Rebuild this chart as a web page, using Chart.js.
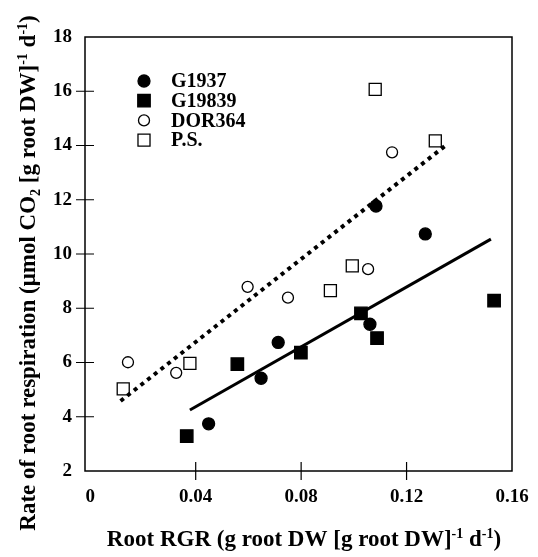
<!DOCTYPE html>
<html>
<head>
<meta charset="utf-8">
<script src="https://cdn.jsdelivr.net/npm/chart.js"></script>
<style>
  body { margin: 0; background: #fff; }
  #wrap { width: 538px; height: 557px; }
</style>
</head>
<body>
<div id="wrap"><canvas id="myChart" width="538" height="557"></canvas></div>
<script>
// values
var xMin = -0.002, xMax = 0.16;
var xTicks = [0, 0.04, 0.08, 0.12, 0.16];
var xTickLabels = ["0", "0.04", "0.08", "0.12", "0.16"];
var yTicks = [2, 4, 6, 8, 10, 12, 14, 16, 18];

var seriesNames = ["G1937", "G19839", "DOR364", "P.S."];

var g1937X = [0.0449, 0.0648, 0.0713, 0.1061, 0.1084, 0.1271];
var g1937Y = [3.74, 5.42, 6.74, 7.41, 11.77, 10.74];
var g19839X = [0.0366, 0.0558, 0.0799, 0.1027, 0.1088, 0.1532];
var g19839Y = [3.29, 5.94, 6.36, 7.81, 6.90, 8.28];
var dorX = [0.0143, 0.0326, 0.0597, 0.0750, 0.1054, 0.1145];
var dorY = [6.01, 5.62, 8.79, 8.39, 9.44, 13.75];
var psX = [0.0125, 0.0378, 0.0911, 0.0994, 0.1081, 0.1309];
var psY = [5.03, 5.97, 8.65, 9.56, 16.07, 14.17];

// regression lines (end points)
var dottedX = [0.0115, 0.1356];
var dottedY = [4.58, 14.06];
var solidX = [0.0378, 0.1520];
var solidY = [4.25, 10.55];

var xTitle = [
  {t: "Root RGR (g root DW [g root DW]"}, {t: "-1", s: 1}, {t: " d"}, {t: "-1", s: 1}, {t: ")"}
];
var yTitle = [
  {t: "Rate of root respiration (\u03bcmol CO"}, {t: "2", s: -1}, {t: " [g root DW]"},
  {t: "-1", s: 1}, {t: " d"}, {t: "-1", s: 1}, {t: ")"}
];

var FONT = '"Liberation Serif", "Times New Roman", serif';

function pts(xs, ys) {
  return xs.map(function (x, i) { return {x: x, y: ys[i]}; });
}

function segFont(s) {
  return s.s ? "bold 14px " + FONT : "bold 23px " + FONT;
}

function richWidth(ctx, segs) {
  var w = 0;
  segs.forEach(function (s) {
    ctx.font = segFont(s);
    w += ctx.measureText(s.t).width;
  });
  return w;
}

function drawRich(ctx, segs, cx, cy) {
  var x = cx - richWidth(ctx, segs) / 2;
  ctx.textBaseline = "alphabetic";
  ctx.textAlign = "left";
  segs.forEach(function (s) {
    ctx.font = segFont(s);
    var dy = s.s == 1 ? -8 : (s.s == -1 ? 5 : 0);
    ctx.fillText(s.t, x, cy + dy);
    x += ctx.measureText(s.t).width;
  });
}

var markers = [
  {style: "circle", r: 6, fill: "#000"},
  {style: "rect", r: 8.8, fill: "#000"},
  {style: "circle", r: 5.5, fill: "#fff"},
  {style: "rect", r: 8.5, fill: "#fff"}
];

var framePlugin = {
  id: "frame",
  afterDraw: function (chart) {
    var ctx = chart.ctx;
    var a = chart.chartArea;
    var xs = chart.scales.x, ys = chart.scales.y;
    ctx.save();
    ctx.strokeStyle = "#000";
    ctx.lineWidth = 1.5;
    ctx.strokeRect(a.left, a.top, a.right - a.left, a.bottom - a.top);
    ctx.lineWidth = 1.2;
    ctx.beginPath();
    for (var i = 1; i < xTicks.length - 1; i++) {
      var px = xs.getPixelForValue(xTicks[i]);
      ctx.moveTo(px, a.bottom - 9);
      ctx.lineTo(px, a.bottom + 9);
    }
    for (var j = 1; j < yTicks.length - 1; j++) {
      var py = ys.getPixelForValue(yTicks[j]);
      ctx.moveTo(a.left - 9, py);
      ctx.lineTo(a.left + 9, py);
    }
    ctx.stroke();

    // legend
    for (var k = 0; k < seriesNames.length; k++) {
      var m = markers[k];
      var ly = 81 + k * 19.7;
      var lx = 144;
      ctx.beginPath();
      if (m.style == "circle") {
        ctx.arc(lx, ly, m.r, 0, Math.PI * 2);
      } else {
        var h = m.r / Math.SQRT2;
        ctx.rect(lx - h, ly - h, 2 * h, 2 * h);
      }
      ctx.fillStyle = m.fill;
      ctx.fill();
      ctx.lineWidth = 1.3;
      ctx.strokeStyle = "#000";
      ctx.stroke();
      ctx.fillStyle = "#000";
      ctx.font = "bold 20px " + FONT;
      ctx.textAlign = "left";
      ctx.textBaseline = "middle";
      ctx.fillText(seriesNames[k], 171, ly + 1);
    }

    // axis titles
    ctx.fillStyle = "#000";
    drawRich(ctx, xTitle, 304, 546);
    ctx.translate(35, 273);
    ctx.rotate(-Math.PI / 2);
    drawRich(ctx, yTitle, 0, 0);
    ctx.restore();
  }
};

function scatterSet(i, xs, ys) {
  var m = markers[i];
  return {
    type: "scatter",
    label: seriesNames[i],
    data: pts(xs, ys),
    pointStyle: m.style,
    pointRadius: m.r,
    pointHoverRadius: m.r,
    backgroundColor: m.fill,
    borderColor: "#000",
    borderWidth: 1.3
  };
}

new Chart("myChart", {
  type: "scatter",
  data: {
    datasets: [
      {
        type: "line",
        label: "fit1",
        data: pts(dottedX, dottedY),
        borderColor: "#000",
        borderWidth: 4,
        borderDash: [4, 4.5],
        pointRadius: 0,
        fill: false
      },
      {
        type: "line",
        label: "fit2",
        data: pts(solidX, solidY),
        borderColor: "#000",
        borderWidth: 3,
        pointRadius: 0,
        fill: false
      },
      scatterSet(0, g1937X, g1937Y),
      scatterSet(1, g19839X, g19839Y),
      scatterSet(2, dorX, dorY),
      scatterSet(3, psX, psY)
    ]
  },
  options: {
    responsive: false,
    animation: false,
    layout: {padding: {left: 0, right: 26, top: 37, bottom: 0}},
    plugins: {
      legend: {display: false},
      tooltip: {enabled: false}
    },
    scales: {
      x: {
        type: "linear",
        min: xMin,
        max: xMax,
        grid: {display: false, drawTicks: false},
        border: {display: false},
        afterBuildTicks: function (s) {
          s.ticks = xTicks.map(function (v) { return {value: v}; });
        },
        afterFit: function (s) {
          s.height = 86;
          s.paddingLeft = 0;
          s.paddingRight = 0;
        },
        ticks: {
          padding: 15,
          color: "#000",
          font: {family: FONT, size: 19, weight: "bold"},
          maxRotation: 0,
          callback: function (v, i) { return xTickLabels[i]; }
        }
      },
      y: {
        type: "linear",
        min: 2,
        max: 18,
        grid: {display: false, drawTicks: false},
        border: {display: false},
        afterBuildTicks: function (s) {
          s.ticks = yTicks.map(function (v) { return {value: v}; });
        },
        afterFit: function (s) {
          s.width = 85;
          s.paddingTop = 0;
          s.paddingBottom = 0;
        },
        ticks: {
          padding: 13,
          color: "#000",
          font: {family: FONT, size: 19, weight: "bold"}
        }
      }
    }
  },
  plugins: [framePlugin]
});
</script>
</body>
</html>
